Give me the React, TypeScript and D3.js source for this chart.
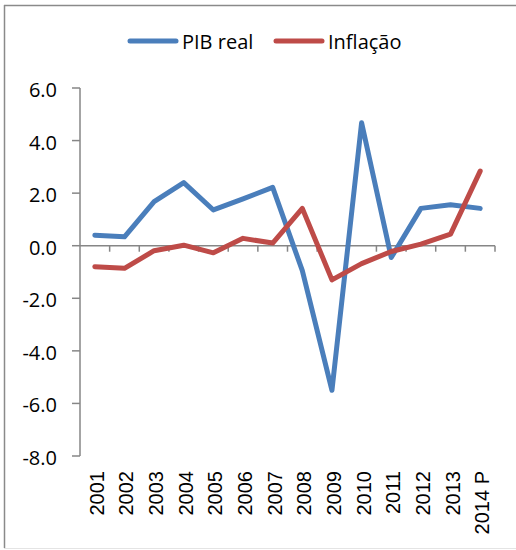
import React from 'react'
import * as d3 from 'd3'

const years = ['2001', '2002', '2003', '2004', '2005', '2006', '2007', '2008', '2009', '2010', '2011', '2012', '2013', '2014 P']
const pibReal = [0.4, 0.34, 1.68, 2.4, 1.36, 1.78, 2.22, -0.95, -5.5, 4.68, -0.45, 1.42, 1.56, 1.42]
const inflacao = [-0.8, -0.86, -0.19, 0.02, -0.27, 0.28, 0.1, 1.42, -1.3, -0.68, -0.22, 0.06, 0.44, 2.84]
const yTicks = [6, 4, 2, 0, -2, -4, -6, -8]

const series = [
  { name: 'PIB real', color: '#4a7ebb', values: pibReal },
  { name: 'Inflação', color: '#be4b48', values: inflacao },
]

const axisColor = '#868686'

export default function App() {
  // layout
  const left = 80
  const right = 495
  const top = 88
  const bottom = 456

  const x = d3.scaleBand<string>().domain(years).range([left, right])
  const y = d3.scaleLinear().domain([-8, 6]).range([bottom, top])
  const cx = (d: string) => (x(d) ?? 0) + x.bandwidth() / 2

  const line = (vals: number[]) =>
    d3.line<number>()
      .x((_, i) => cx(years[i]))
      .y(d => y(d))(vals) ?? ''

  const legendX = [130, 276]

  return (
    <svg width={516} height={550} style={{ position: 'absolute', left: 0, top: 0 }}>
      <rect x={0} y={0} width={516} height={550} fill="#fff" />
      {/* frame */}
      <line x1={4.5} y1={5} x2={4.5} y2={548} stroke="#8a8a8a" strokeWidth={1.5} />
      <line x1={4} y1={5.5} x2={516} y2={5.5} stroke="#8a8a8a" strokeWidth={1.5} />
      <line x1={4} y1={548.5} x2={516} y2={548.5} stroke="#e4e4e4" strokeWidth={1} />

      {/* legend */}
      {series.map((s, i) => (
        <g key={s.name}>
          <line x1={legendX[i]} y1={41} x2={legendX[i] + 46} y2={41} stroke={s.color} strokeWidth={5} strokeLinecap="round" />
          <text x={legendX[i] + 52} y={48.5} fontFamily="Open Sans" fontSize={20} fill="#000">{s.name}</text>
        </g>
      ))}

      {/* y axis */}
      <line x1={left} y1={top} x2={left} y2={bottom} stroke={axisColor} strokeWidth={1.5} />
      {yTicks.map(t => (
        <g key={t}>
          <line x1={left - 8} y1={y(t)} x2={left} y2={y(t)} stroke={axisColor} strokeWidth={1.5} />
          <text x={57} y={y(t) + 2} dy="0.35em" textAnchor="end" fontFamily="Open Sans" fontSize={20} fill="#000">
            {t.toFixed(1)}
          </text>
        </g>
      ))}

      {/* x axis at zero */}
      <line x1={left} y1={y(0)} x2={right} y2={y(0)} stroke={axisColor} strokeWidth={1.5} />
      {years.map(d => (
        <line key={d} x1={(x(d) ?? 0) + x.bandwidth()} y1={y(0)} x2={(x(d) ?? 0) + x.bandwidth()} y2={y(0) + 6} stroke={axisColor} strokeWidth={1.5} />
      ))}
      {years.map(d => (
        <text
          key={d}
          transform={`translate(${cx(d) + 2},471) rotate(-90)`}
          dy="0.35em"
          textAnchor="end"
          fontFamily="Liberation Sans"
          fontSize={20}
          fill="#000"
        >
          {d}
        </text>
      ))}

      {/* series */}
      {series.map(s => (
        <path key={s.name} d={line(s.values)} fill="none" stroke={s.color} strokeWidth={5} strokeLinejoin="round" strokeLinecap="round" />
      ))}
    </svg>
  )
}
